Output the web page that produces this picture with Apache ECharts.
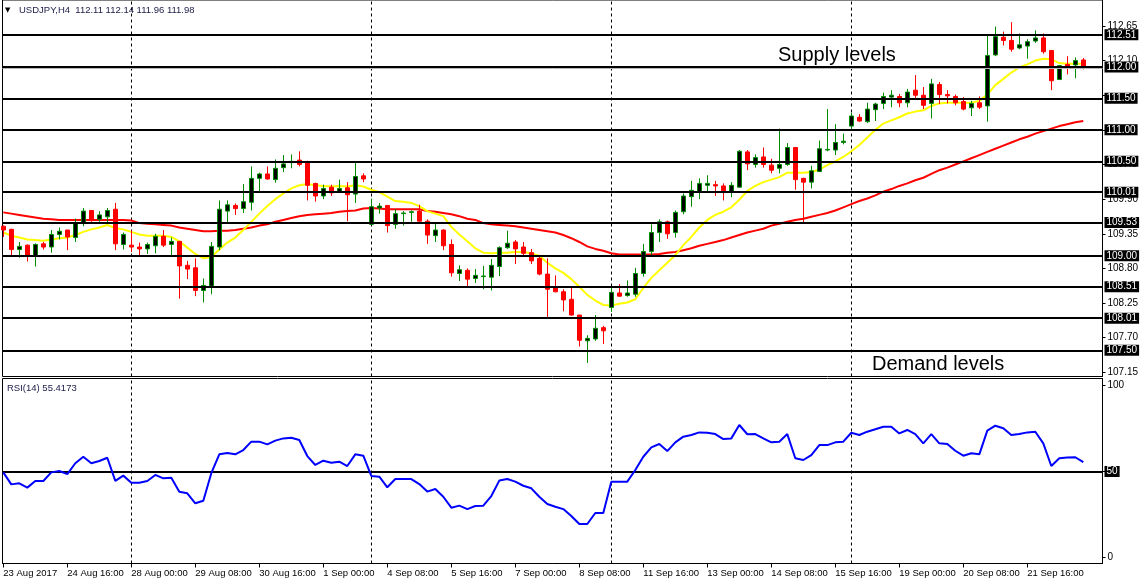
<!DOCTYPE html>
<html><head><meta charset="utf-8">
<script src="https://cdn.jsdelivr.net/npm/echarts@6/dist/echarts.min.js"></script>
<style>html,body{margin:0;padding:0;background:#fff}#c{width:1143px;height:585px}</style>
</head><body><div id="c"></div>
<script>
// ---------- DATA ----------
const opens = [109.47,109.42,109.10,109.17,109.00,109.19,109.14,109.34,109.41,109.29,
 109.53,109.72,109.58,109.62,109.74,109.18,109.17,109.14,109.11,109.16,
 109.31,109.18,109.23,108.85,108.81,108.45,108.52,109.14,109.71,109.80,
 109.75,109.85,110.23,110.30,110.21,110.40,110.48,110.52,110.49,110.15,
 109.95,110.09,110.02,110.08,109.98,110.27,109.50,109.76,109.80,109.50,
 109.67,109.69,109.71,109.55,109.32,109.41,109.18,108.72,108.77,108.64,
 108.67,108.66,108.83,109.13,109.22,109.14,109.05,108.96,108.71,108.49,
 108.43,108.31,108.06,107.65,107.68,107.86,108.18,108.41,108.37,108.39,
 108.72,109.07,109.37,109.54,109.37,109.70,109.94,110.02,110.12,110.13,
 110.11,110.02,110.09,110.65,110.45,110.57,110.44,110.39,110.45,110.72,
 110.23,110.17,110.34,110.68,110.68,110.80,111.06,111.20,111.13,111.32,
 111.42,111.52,111.53,111.43,111.63,111.55,111.42,111.72,111.56,111.53,
 111.45,111.35,111.43,111.38,112.19,112.47,112.42,112.30,112.33,112.41,
 112.46,112.26,111.80,112.04,112.03,112.11];
const highs = [109.48,109.43,109.22,109.18,109.20,109.22,109.41,109.45,109.41,109.59,
 109.76,109.72,109.71,109.76,109.84,109.37,109.40,109.21,109.21,109.35,
 109.41,109.29,109.23,108.92,108.96,108.64,109.22,109.88,109.88,109.83,
 110.14,110.42,110.32,110.42,110.53,110.60,110.61,110.66,110.51,110.16,
 110.13,110.13,110.21,110.17,110.48,110.31,109.91,109.84,109.80,109.74,
 109.71,109.72,109.81,109.58,109.53,109.42,109.26,108.85,108.80,108.79,
 108.84,108.95,109.15,109.40,109.25,109.22,109.11,108.98,108.96,108.69,
 108.47,108.49,108.06,107.74,108.06,107.89,108.51,108.55,108.61,108.81,
 109.19,109.50,109.58,109.56,109.72,109.99,110.19,110.23,110.28,110.19,
 110.15,110.17,110.68,110.68,110.61,110.72,110.54,111.02,110.79,110.72,
 110.24,110.43,110.83,111.33,111.09,110.94,111.27,111.25,111.43,111.43,
 111.59,111.63,111.57,111.65,111.87,111.68,111.81,111.76,111.63,111.56,
 111.52,111.46,111.53,112.52,112.64,112.56,112.71,112.53,112.44,112.58,
 112.53,112.26,112.03,112.17,112.15,112.14];
const lows = [109.30,109.00,108.97,108.91,108.83,109.10,109.05,109.26,109.09,109.22,
 109.47,109.54,109.54,109.52,109.09,109.10,109.06,109.01,109.03,109.04,
 109.14,109.01,108.32,108.63,108.36,108.26,108.39,109.09,109.52,109.65,
 109.68,109.72,110.02,110.21,110.16,110.33,110.39,110.42,109.88,109.86,
 109.90,109.95,110.00,109.55,109.84,110.17,109.49,109.67,109.37,109.43,
 109.48,109.54,109.54,109.19,109.22,109.09,108.67,108.60,108.49,108.57,
 108.47,108.45,108.68,109.11,108.87,108.98,108.87,108.69,108.03,108.42,
 108.12,108.05,107.56,107.30,107.65,107.60,108.11,108.35,108.35,108.35,
 108.67,109.01,109.22,109.27,109.29,109.66,109.78,109.90,110.03,109.95,
 109.88,109.93,110.08,110.36,110.40,110.40,110.31,110.31,110.43,110.05,
 109.52,110.07,110.33,110.66,110.60,110.77,111.00,111.13,111.11,111.14,
 111.33,111.36,111.36,111.36,111.50,111.33,111.18,111.41,111.42,111.39,
 111.31,111.22,111.33,111.13,112.17,112.34,112.24,112.28,112.13,112.38,
 112.21,111.63,111.79,111.88,111.82,111.96];
const closes = [109.41,109.10,109.15,109.00,109.18,109.14,109.34,109.39,109.30,109.53,
 109.71,109.56,109.65,109.72,109.19,109.34,109.14,109.11,109.18,109.31,
 109.17,109.23,108.84,108.79,108.45,108.53,109.15,109.74,109.81,109.75,
 109.86,110.23,110.30,110.22,110.39,110.46,110.50,110.45,110.12,109.95,
 110.07,110.00,110.07,109.97,110.26,110.22,109.78,109.79,109.48,109.67,
 109.68,109.70,109.55,109.33,109.41,109.16,108.73,108.78,108.63,108.69,
 108.68,108.85,109.13,109.20,109.11,109.04,108.92,108.71,108.47,108.43,
 108.30,108.06,107.66,107.69,107.85,107.81,108.42,108.36,108.41,108.72,
 109.07,109.37,109.54,109.35,109.69,109.95,110.04,110.15,110.15,110.11,
 110.03,110.12,110.66,110.46,110.56,110.45,110.36,110.45,110.72,110.21,
 110.17,110.35,110.70,110.69,110.80,110.82,111.22,111.14,111.33,111.41,
 111.53,111.55,111.43,111.60,111.55,111.39,111.73,111.56,111.54,111.43,
 111.33,111.42,111.36,112.18,112.48,112.42,112.28,112.35,112.40,112.46,
 112.24,111.78,112.02,112.01,112.10,111.98];
const maFast = [109.37,109.32,109.29,109.26,109.25,109.24,109.26,109.28,109.29,109.33,
 109.38,109.42,109.45,109.49,109.44,109.42,109.38,109.34,109.32,109.32,
 109.32,109.30,109.23,109.13,109.03,108.96,108.98,109.10,109.21,109.29,
 109.41,109.54,109.67,109.79,109.90,109.99,110.07,110.12,110.14,110.12,
 110.11,110.10,110.11,110.10,110.12,110.10,110.05,110.01,109.94,109.87,
 109.86,109.84,109.79,109.71,109.67,109.63,109.46,109.34,109.23,109.12,
 109.05,109.04,109.05,109.05,109.06,109.06,109.04,109.00,108.89,108.80,
 108.73,108.63,108.51,108.38,108.29,108.22,108.21,108.24,108.26,108.31,
 108.49,108.65,108.77,108.89,109.01,109.17,109.30,109.45,109.57,109.65,
 109.70,109.77,109.89,110.03,110.11,110.17,110.21,110.25,110.32,110.32,
 110.32,110.33,110.37,110.44,110.50,110.57,110.66,110.76,110.88,111.00,
 111.10,111.15,111.20,111.26,111.29,111.31,111.38,111.42,111.43,111.43,
 111.43,111.43,111.46,111.56,111.71,111.81,111.91,111.99,112.04,112.10,
 112.13,112.12,112.06,112.05,112.05,112.05];
const maSlow = [109.69,109.67,109.65,109.63,109.61,109.59,109.58,109.57,109.57,109.57,
 109.57,109.57,109.57,109.57,109.57,109.57,109.56,109.52,109.51,109.50,
 109.49,109.48,109.45,109.43,109.41,109.39,109.39,109.40,109.40,109.41,
 109.43,109.45,109.48,109.50,109.54,109.57,109.60,109.63,109.65,109.66,
 109.67,109.68,109.70,109.71,109.72,109.75,109.76,109.75,109.74,109.74,
 109.74,109.74,109.74,109.71,109.70,109.68,109.66,109.63,109.59,109.57,
 109.52,109.50,109.49,109.48,109.47,109.45,109.43,109.41,109.39,109.37,
 109.33,109.28,109.22,109.15,109.11,109.08,109.04,109.02,109.02,109.02,
 109.02,109.02,109.03,109.05,109.06,109.09,109.12,109.16,109.19,109.22,
 109.25,109.29,109.33,109.37,109.40,109.43,109.48,109.51,109.54,109.57,
 109.59,109.62,109.65,109.68,109.72,109.77,109.82,109.87,109.91,109.96,
 110.02,110.06,110.11,110.15,110.20,110.24,110.30,110.36,110.40,110.45,
 110.50,110.55,110.60,110.65,110.70,110.75,110.80,110.85,110.89,110.94,
 110.98,111.02,111.06,111.09,111.12,111.14];
const rsi = [49.5,42.5,43.1,40.6,44.5,44.5,49.5,50.3,48.5,54.8,
 58.6,54.8,56.1,58.0,44.5,47.6,43.5,43.5,44.5,48.0,
 46.0,46.4,38.2,37.3,31.5,33.0,49.0,60.0,60.8,60.0,
 62.5,67.4,67.4,65.8,68.0,69.3,69.7,68.4,59.0,53.8,
 56.3,55.1,55.7,53.2,60.0,59.2,47.4,47.0,40.8,45.6,
 45.6,45.6,42.7,38.3,39.8,35.3,28.9,30.1,28.1,29.9,
 30.1,35.7,44.7,45.6,44.1,41.7,40.2,35.3,31.1,29.5,
 28.1,24.1,19.4,19.4,25.8,25.8,44.1,44.1,44.1,50.9,
 58.6,64.1,66.0,61.9,67.0,70.3,71.3,72.8,72.6,71.8,
 68.9,69.3,77.1,71.7,71.8,69.3,67.0,67.4,71.8,57.7,
 56.7,59.6,65.4,65.4,67.0,67.4,72.6,71.3,73.2,74.6,
 76.1,76.1,72.2,74.2,71.8,66.4,71.8,66.4,66.0,62.1,
 59.2,60.6,60.0,73.8,76.7,75.2,71.3,71.8,72.8,73.2,
 66.4,53.2,57.7,58.1,58.3,55.4173];
const levels = [112.51, 112.00, 111.50, 111.00, 110.50, 110.01, 109.53, 109.00, 108.51, 108.01, 107.50];
const bidPrice = 111.98;
const priceTicks = [107.15, 107.70, 108.25, 108.80, 109.35, 109.90, 110.45, 111.00, 111.55, 112.10, 112.65];
const priceTickLabels = [107.15, 107.70, 108.25, 108.80, 109.35, 109.90, 110.45, 112.10, 112.65];
const rsiTicks = [0, 50, 100];
const rsiLevel = 50;
const weekStarts = [16, 46, 76, 106];
const timeTickIdx = [0, 8, 16, 24, 32, 40, 48, 56, 64, 72, 80, 88, 96, 104, 112, 120, 128];
const timeTickLabels = ['23 Aug 2017','24 Aug 16:00','28 Aug 00:00','29 Aug 08:00','30 Aug 16:00',
 '1 Sep 00:00','4 Sep 08:00','5 Sep 16:00','7 Sep 00:00','8 Sep 08:00','11 Sep 16:00',
 '13 Sep 00:00','14 Sep 08:00','15 Sep 16:00','19 Sep 00:00','20 Sep 08:00','21 Sep 16:00'];
const titleText = 'USDJPY,H4  112.11 112.14 111.96 111.98';
const rsiText = 'RSI(14) 55.4173';

// ---------- CHART ----------
const FONT = 'Liberation Sans';
const X_MIN = -0.1, X_MAX = 137.4;
const P_MIN = 107.0843, P_MAX = 113.0618;
const R_MIN = -3.61, R_MAX = 104.20;

const candleData = opens.map((o, i) => [i, o, closes[i], lows[i], highs[i]]);
const pair = arr => arr.map((v, i) => [i, v]);

const boxLabel = {
  show: true, position: 'end', distance: 2, backgroundColor: '#000', color: '#fff',
  fontSize: 10, fontFamily: FONT, padding: [1, 2, 0, 2], lineHeight: 10, formatter: '{b}'
};
const sepLine = v => ({ xAxis: v, lineStyle: { color: '#000', width: 1, type: [3, 3] }, label: { show: false } });

const levelMarks = [{ yAxis: bidPrice, lineStyle: { color: '#b8b8b8', width: 1, type: 'solid' }, label: { show: false } }]
  .concat(levels.map(v => ({ yAxis: v, name: v.toFixed(2), lineStyle: { color: '#000', width: 2, type: 'solid' }, label: boxLabel })));

const chart = echarts.init(document.getElementById('c'), null, { renderer: 'canvas' });
chart.setOption({
  animation: false,
  backgroundColor: '#fff',
  grid: [
    { left: 2.5, top: -0.5, width: 1100, height: 377, show: true, borderColor: '#000', borderWidth: 1, backgroundColor: 'transparent' },
    { left: 2.5, top: 378.5, width: 1100, height: 185, show: true, borderColor: '#000', borderWidth: 1, backgroundColor: 'transparent' }
  ],
  xAxis: [
    { gridIndex: 0, type: 'value', min: X_MIN, max: X_MAX, show: false, axisLine: { onZero: false } },
    { gridIndex: 1, type: 'value', min: X_MIN, max: X_MAX,
      axisLine: { show: true, onZero: false, lineStyle: { color: '#000', width: 1 } },
      axisTick: { show: true, customValues: timeTickIdx, length: 4, lineStyle: { color: '#000' } },
      axisLabel: { customValues: timeTickIdx, formatter: v => timeTickLabels[timeTickIdx.indexOf(Math.round(v))] || '',
        align: 'left', margin: 5, fontSize: 9.5, fontFamily: FONT, color: '#000' },
      splitLine: { show: false } }
  ],
  yAxis: [
    { gridIndex: 0, type: 'value', position: 'right', min: P_MIN, max: P_MAX,
      axisLine: { show: true, onZero: false, lineStyle: { color: '#000' } },
      axisTick: { show: true, customValues: priceTicks, length: 3, lineStyle: { color: '#000' } },
      axisLabel: { customValues: priceTickLabels, formatter: v => v.toFixed(2), margin: 5, fontSize: 10, fontFamily: FONT, color: '#000' },
      splitLine: { show: false } },
    { gridIndex: 1, type: 'value', position: 'right', min: R_MIN, max: R_MAX,
      axisLine: { show: true, onZero: false, lineStyle: { color: '#000' } },
      axisTick: { show: true, customValues: rsiTicks, length: 3, lineStyle: { color: '#000' } },
      axisLabel: { customValues: rsiTicks, formatter: v => String(Math.round(v)), margin: 5, fontSize: 10, fontFamily: FONT, color: '#000' },
      splitLine: { show: false } }
  ],
  series: [
    { type: 'line', name: 'MA slow', xAxisIndex: 0, yAxisIndex: 0, data: pair(maSlow), showSymbol: false, z: 2,
      lineStyle: { color: '#ff0000', width: 2 }, silent: true,
      markLine: { z: 1, silent: true, symbol: 'none', animation: false, data: weekStarts.map(sepLine) } },
    { type: 'line', name: 'MA fast', xAxisIndex: 0, yAxisIndex: 0, data: pair(maFast), showSymbol: false, z: 2,
      lineStyle: { color: '#ffff00', width: 2 }, silent: true },
    { type: 'candlestick', name: 'USDJPY', xAxisIndex: 0, yAxisIndex: 0, data: candleData, barWidth: 5, z: 3,
      itemStyle: { color: '#000000', color0: '#ff0000', borderColor: '#008c00', borderColor0: '#ff0000', borderWidth: 1 },
      markLine: { z: 5, silent: true, symbol: 'none', animation: false, data: levelMarks } },
    { type: 'line', name: 'RSI', xAxisIndex: 1, yAxisIndex: 1, data: pair(rsi), showSymbol: false, z: 3,
      lineStyle: { color: '#0000ff', width: 2 }, silent: true,
      markLine: { z: 2, silent: true, symbol: 'none', animation: false,
        data: weekStarts.map(sepLine).concat([{ yAxis: rsiLevel, name: String(rsiLevel), lineStyle: { color: '#000', width: 2, type: 'solid' }, label: boxLabel }]) } }
  ],
  graphic: [
    { type: 'text', left: 5, top: 7, z: 100, style: { text: '▼', font: '7px "DejaVu Sans"', fill: '#000' } },
    { type: 'text', left: 19, top: 5, z: 100, style: { text: titleText, font: '9.5px "Liberation Sans"', fill: '#1b1b48' } },
    { type: 'text', left: 7, top: 383, z: 100, style: { text: rsiText, font: '9.5px "Liberation Sans"', fill: '#1b1b48' } },
    { type: 'text', z: 100, style: { x: 778, y: 55, text: 'Supply levels', font: '20px "Liberation Sans"', fill: '#000', verticalAlign: 'middle' } },
    { type: 'text', z: 100, style: { x: 872, y: 364, text: 'Demand levels', font: '20px "Liberation Sans"', fill: '#000', verticalAlign: 'middle' } }
  ]
});
</script>
</body></html>
